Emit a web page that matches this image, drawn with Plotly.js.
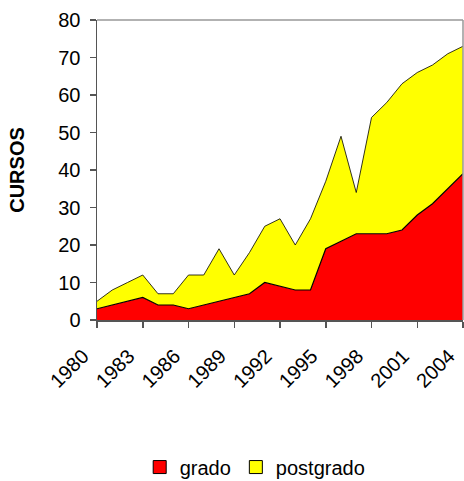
<!DOCTYPE html>
<html>
<head>
<meta charset="utf-8">
<script src="https://cdn.plot.ly/plotly-3.0.1.min.js"></script>
<style>
html,body{margin:0;padding:0;background:#fff;}
#chart{width:464px;height:481px;}
</style>
</head>
<body>
<div id="chart"></div>
<script>
var years = [1980,1981,1982,1983,1984,1985,1986,1987,1988,1989,1990,1991,1992,1993,1994,1995,1996,1997,1998,1999,2000,2001,2002,2003,2004];
var grado = [3,4,5,6,4,4,3,4,5,6,7,10,9,8,8,19,21,23,23,23,24,28,31,35,39];
var postgrado = [2,4,5,6,3,3,9,8,14,6,11,15,18,12,19,18,28,11,31,35,39,38,37,36,34];
var tickYears = [1980,1983,1986,1989,1992,1995,1998,2001,2004];
var tickLabels = ['1980','1983','1986','1989','1992','1995','1998','2001','2004'];
var seriesNames = ['grado','postgrado'];
var seriesColors = ['#FF0000','#FFFF00'];
var yTitle = 'CURSOS';

var font = 'Arial, "Liberation Sans", sans-serif';

var traces = [
  {x: years, y: grado, name: seriesNames[0], type: 'scatter', mode: 'lines',
   stackgroup: 'one', fillcolor: seriesColors[0], line: {color: '#000', width: 1.2}, showlegend: false, hoverinfo: 'x+y'},
  {x: years, y: postgrado, name: seriesNames[1], type: 'scatter', mode: 'lines',
   stackgroup: 'one', fillcolor: seriesColors[1], line: {color: '#000', width: 0.8}, showlegend: false, hoverinfo: 'x+y'},
  {x: [null], y: [null], name: seriesNames[0], type: 'scatter', mode: 'markers', showlegend: true,
   marker: {symbol: 'square', size: 13, color: seriesColors[0], line: {color: '#000', width: 1}}},
  {x: [null], y: [null], name: seriesNames[1], type: 'scatter', mode: 'markers', showlegend: true,
   marker: {symbol: 'square', size: 13, color: seriesColors[1], line: {color: '#000', width: 1}}}
];

var layout = {
  width: 464, height: 481,
  margin: {l: 97, r: 1, t: 20, b: 161},
  paper_bgcolor: '#fff', plot_bgcolor: '#fff',
  font: {family: font, size: 20, color: '#000'},
  showlegend: true,
  legend: {orientation: 'h', xref: 'container', yref: 'container', x: 0.55, xanchor: 'center', y: 0.029, yanchor: 'middle',
           font: {family: font, size: 20, color: '#000'}, itemwidth: 30, traceorder: 'normal'},
  xaxis: {range: [1980, 2004], tickmode: 'array', tickvals: tickYears, ticktext: tickLabels, tickangle: -45,
          ticks: 'outside', ticklen: 6, tickcolor: '#555', tickwidth: 1.5, ticklabelshift: -14, ticklabelstandoff: 9,
          ticklabeloverflow: 'allow',
          showline: true, linecolor: '#555', linewidth: 1.5, mirror: false,
          showgrid: false, zeroline: false, tickfont: {size: 20}},
  yaxis: {range: [0, 80], dtick: 10, ticks: 'outside', ticklen: 6, tickcolor: '#555', tickwidth: 1.5, ticklabelstandoff: 5,
          showline: true, linecolor: '#555', linewidth: 1.5, mirror: false,
          showgrid: false, zeroline: false, tickfont: {size: 20},
          title: {text: '<b>' + yTitle + '</b>', font: {size: 20}, standoff: 28}},
  shapes: [
    {type: 'line', xref: 'paper', yref: 'paper', x0: 0, x1: 1, y0: 1, y1: 1, line: {color: '#999', width: 1.5}},
    {type: 'line', xref: 'paper', yref: 'paper', x0: 1, x1: 1, y0: 0, y1: 1, line: {color: '#999', width: 1.5}}
  ]
};

Plotly.newPlot('chart', traces, layout, {displayModeBar: false, staticPlot: true});
</script>
</body>
</html>
